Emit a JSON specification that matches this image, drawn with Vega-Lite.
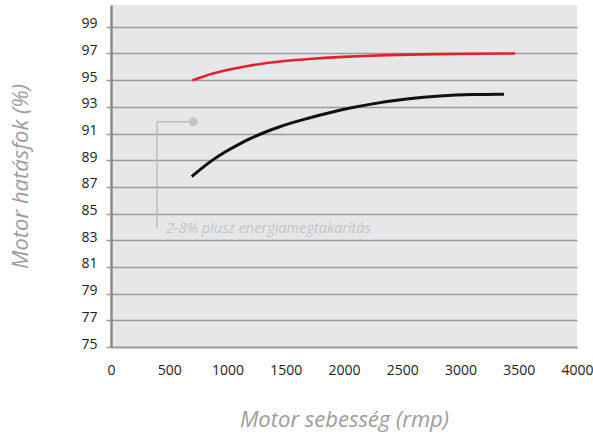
{
  "$schema": "https://vega.github.io/schema/vega-lite/v6.json",
  "width": 466,
  "height": 342,
  "autosize": {"type": "none"},
  "padding": {"left": 111, "top": 5, "right": 16, "bottom": 89},
  "background": "white",
  "config": {
    "view": {"fill": "#e6e7e8", "stroke": null},
    "font": "Open Sans"
  },
  "datasets": {
    "curves": [
      {"series": "new", "rpm": 698, "eff": 94.98},
      {"series": "new", "rpm": 790, "eff": 95.27},
      {"series": "new", "rpm": 878, "eff": 95.5},
      {"series": "new", "rpm": 1000, "eff": 95.77},
      {"series": "new", "rpm": 1165, "eff": 96.07},
      {"series": "new", "rpm": 1451, "eff": 96.42},
      {"series": "new", "rpm": 1737, "eff": 96.62},
      {"series": "new", "rpm": 1966, "eff": 96.73},
      {"series": "new", "rpm": 2137, "eff": 96.8},
      {"series": "new", "rpm": 2538, "eff": 96.92},
      {"series": "new", "rpm": 3110, "eff": 96.99},
      {"series": "new", "rpm": 3468, "eff": 97.0},
      {"series": "old", "rpm": 693, "eff": 87.77},
      {"series": "old", "rpm": 778, "eff": 88.4},
      {"series": "old", "rpm": 864, "eff": 88.97},
      {"series": "old", "rpm": 979, "eff": 89.63},
      {"series": "old", "rpm": 1093, "eff": 90.18},
      {"series": "old", "rpm": 1208, "eff": 90.68},
      {"series": "old", "rpm": 1322, "eff": 91.1},
      {"series": "old", "rpm": 1436, "eff": 91.48},
      {"series": "old", "rpm": 1551, "eff": 91.8},
      {"series": "old", "rpm": 1665, "eff": 92.08},
      {"series": "old", "rpm": 1780, "eff": 92.35},
      {"series": "old", "rpm": 1894, "eff": 92.6},
      {"series": "old", "rpm": 2009, "eff": 92.84},
      {"series": "old", "rpm": 2252, "eff": 93.25},
      {"series": "old", "rpm": 2538, "eff": 93.6},
      {"series": "old", "rpm": 2824, "eff": 93.83},
      {"series": "old", "rpm": 3110, "eff": 93.93},
      {"series": "old", "rpm": 3373, "eff": 93.95}
    ],
    "leader": [
      {"order": 1, "rpm": 395, "eff": 83.88},
      {"order": 2, "rpm": 395, "eff": 91.875},
      {"order": 3, "rpm": 707, "eff": 91.875}
    ],
    "dot": [{"rpm": 707, "eff": 91.875}],
    "note": [{"rpm": 472, "eff": 83.55, "label": "2-8% plusz energiamegtakarítás"}]
  },
  "layer": [
    {
      "data": {"name": "curves"},
      "mark": {"type": "line", "interpolate": "basis", "strokeCap": "butt"},
      "encoding": {
        "x": {
          "field": "rpm", "type": "quantitative",
          "scale": {"domain": [0, 4000], "nice": false},
          "axis": {
            "title": "Motor sebesség (rmp)",
            "values": [0, 500, 1000, 1500, 2000, 2500, 3000, 3500, 4000],
            "tickCount": 20,
            "format": "d", "labelFlush": false, "labelOverlap": false,
            "grid": false, "ticks": false,
            "domainColor": "#a3a3a3", "domainWidth": 2,
            "labelFontSize": 14, "labelColor": "#222222", "labelPadding": 16,
            "labelFont": "Open Sans",
            "titleFont": "Open Sans", "titleFontSize": 22, "titleFontStyle": "italic",
            "titleFontWeight": "normal", "titleColor": "#9d9d9d", "titlePadding": 32
          }
        },
        "y": {
          "field": "eff", "type": "quantitative",
          "scale": {"domain": [75, 100.63], "nice": false, "zero": false},
          "axis": {
            "title": "Motor hatásfok (%)",
            "values": [75, 77, 79, 81, 83, 85, 87, 89, 91, 93, 95, 97, 99],
            "tickCount": 20,
            "labelOverlap": false, "labelFlush": false,
            "grid": true, "gridColor": "#9b9b9b", "gridWidth": 1.5, "gridOpacity": 1,
            "ticks": true, "tickSize": 5, "tickColor": "#9b9b9b", "tickWidth": 1.5,
            "domainColor": "#8a8a8a", "domainWidth": 2.5,
            "labelFontSize": 14, "labelColor": "#222222", "labelPadding": 9,
            "labelBaseline": "alphabetic", "labelOffset": 1, "labelFont": "Open Sans",
            "titleFont": "Open Sans", "titleFontSize": 22, "titleFontStyle": "italic",
            "titleFontWeight": "normal", "titleColor": "#9d9d9d", "titlePadding": 48
          }
        },
        "color": {
          "field": "series", "type": "nominal",
          "scale": {"domain": ["new", "old"], "range": ["#e5202a", "#111111"]},
          "legend": null
        },
        "strokeWidth": {
          "field": "series", "type": "nominal",
          "scale": {"domain": ["new", "old"], "range": [2.6, 3]},
          "legend": null
        }
      }
    },
    {
      "data": {"name": "leader"},
      "mark": {"type": "line", "color": "#bdbdbd", "strokeWidth": 1.5},
      "encoding": {
        "x": {"field": "rpm", "type": "quantitative"},
        "y": {"field": "eff", "type": "quantitative"},
        "order": {"field": "order", "type": "quantitative"}
      }
    },
    {
      "data": {"name": "dot"},
      "mark": {"type": "point", "filled": true, "color": "#c4c4c4", "opacity": 1, "size": 80},
      "encoding": {
        "x": {"field": "rpm", "type": "quantitative"},
        "y": {"field": "eff", "type": "quantitative"}
      }
    },
    {
      "data": {"name": "note"},
      "mark": {"type": "text", "align": "left", "baseline": "alphabetic", "font": "Open Sans", "fontStyle": "italic", "fontSize": 14.5, "color": "#c4c4c4"},
      "encoding": {
        "x": {"field": "rpm", "type": "quantitative"},
        "y": {"field": "eff", "type": "quantitative"},
        "text": {"field": "label", "type": "nominal"}
      }
    }
  ]
}
